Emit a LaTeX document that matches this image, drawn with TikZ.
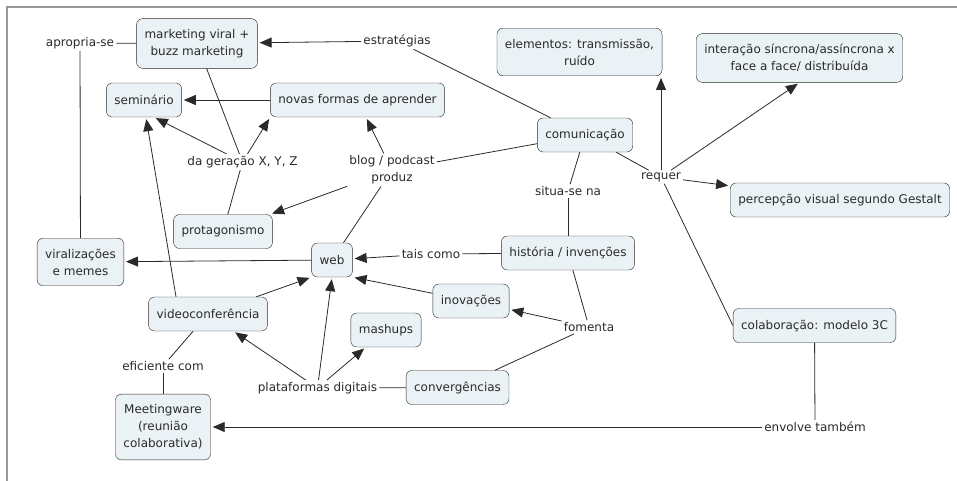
\documentclass[tikz,border=0pt]{standalone}
\usepackage{fontspec}
\setmainfont{DejaVu Sans}
\usetikzlibrary{arrows.meta}
\definecolor{boxfill}{HTML}{EBF2F5}
\definecolor{ink}{HTML}{2A2A2A}
\begin{document}
\begin{tikzpicture}[x=1pt,y=-1pt,
    font=\fontsize{12}{17}\selectfont,
    concept/.style={draw=ink, fill=boxfill, rounded corners=6pt, align=center, text=ink, inner xsep=8pt, inner ysep=10.5pt, minimum height=34pt},
    phrase/.style={fill=white, align=center, text=ink, inner sep=2pt},
    link/.style={draw=ink, line width=0.8pt},
    arr/.style={link, -{Triangle[length=12pt,width=10pt]}, shorten >=2pt}]

                \useasboundingbox (0,0) rectangle (957,481);
                \draw[black!40, line width=2pt] (7,481) -- (7,7) -- (957,7);

                \node[concept] (mkt) at (197,43.5) {marketing viral +\\buzz marketing};
                \node[concept] (sem) at (144,100) {seminário};
                \node[concept] (novas) at (357.5,100) {novas formas de aprender};
                \node[concept] (protag) at (223,231.5) {protagonismo};
                \node[concept] (elem) at (579.5,52) {elementos: transmissão,\\ruído};
                \node[concept] (inter) at (799.5,58) {interação síncrona/assíncrona x\\face a face/ distribuída};
                \node[concept] (comun) at (585,135) {comunicação};
                \node[concept] (percep) at (840,200) {percepção visual segundo Gestalt};
                \node[concept] (hist) at (568,253) {história / invenções};
                \node[concept] (colab) at (814.5,325.5) {colaboração: modelo 3C};
                \node[concept] (viral) at (80.5,262) {viralizações\\e memes};
                \node[concept] (web) at (332,260) {web};
                \node[concept] (inov) at (471,301) {inovações};
                \node[concept] (vconf) at (208,314) {videoconferência};
                \node[concept] (mash) at (386,330) {mashups};
                \node[concept] (conv) at (457.5,387.5) {convergências};
                \node[concept] (meet) at (163,427) {Meetingware\\(reunião\\colaborativa)};

                \node[phrase] (aprop) at (80,43) {apropria-se};
                \node[phrase] (estrat) at (397,41) {estratégias};
                \node[phrase] (dger) at (242.5,162) {da geração X, Y, Z};
                \node[phrase] (blog) at (392,170) {blog / podcast\\produz};
                \node[phrase] (requer) at (661,177) {requer};
                \node[phrase] (situa) at (568,191) {situa-se na};
                \node[phrase] (tais) at (431,254) {tais como};
                \node[phrase] (fom) at (589,327) {fomenta};
                \node[phrase] (env) at (815,427) {envolve também};
                \node[phrase] (plat) at (317.5,388) {plataformas digitais};
                \node[phrase] (efic) at (163,366) {eficiente com};

                \draw[link] (viral) -- (aprop);
                \draw[link] (aprop) -- (mkt);
                \draw[link] (comun) -- (estrat);
                \draw[arr] (estrat) -- (mkt);
                \draw[arr] (novas) -- (sem);
                \draw[link] (mkt) -- (dger);
                \draw[link] (protag) -- (dger);
                \draw[arr] (dger) -- ([xshift=10pt]sem.south);
                \draw[arr] (dger) -- (novas.south west);
                \draw[link] (comun) -- (blog);
                \draw[link] (web) -- (blog);
                \draw[arr] (blog) -- (novas);
                \draw[arr] (blog) -- (protag);
                \draw[link] (comun) -- (requer);
                \draw[arr] (requer) -- (requer |- elem.south);
                \draw[arr] (requer) -- (inter.south);
                \draw[arr] (requer) -- (percep);
                \draw[link] (requer) -- (colab.west);
                \draw[link] (comun) -- (situa);
                \draw[link] (situa) -- (hist);
                \draw[link] (hist) -- (tais);
                \draw[arr] (tais) -- (web);
                \draw[link] (hist) -- (fom);
                \draw[arr] (fom) -- (inov);
                \draw[link] (fom) -- (conv);
                \draw[arr] (inov) -- (web.south east);
                \draw[arr] (web) -- (viral);
                \draw[arr] (vconf) -- (web.south west);
                \draw[arr] ([xshift=-32pt]vconf.north) -- ([xshift=2pt]sem.south);
                \draw[link] (conv) -- (plat);
                \draw[arr] (plat) -- (vconf);
                \draw[arr] (plat) -- (web.south);
                \draw[arr] (plat) -- (mash);
                \draw[link] (vconf) -- (efic);
                \draw[link] (efic) -- (meet);
                \draw[link] (colab) -- (env);
                \draw[arr] (env) -- (meet);

\end{tikzpicture}
\end{document}
